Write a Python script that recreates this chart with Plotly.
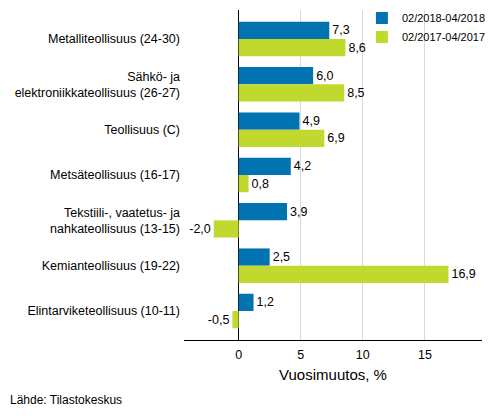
import plotly.graph_objects as go

categories = [
    'Metalliteollisuus (24-30)',
    'Sähkö- ja<br>elektroniikkateollisuus (26-27)',
    'Teollisuus (C)',
    'Metsäteollisuus (16-17)',
    'Tekstiili-, vaatetus- ja<br>nahkateollisuus (13-15)',
    'Kemianteollisuus (19-22)',
    'Elintarviketeollisuus (10-11)',
]
vals_2018 = [7.3, 6.0, 4.9, 4.2, 3.9, 2.5, 1.2]
vals_2017 = [8.6, 8.5, 6.9, 0.8, -2.0, 16.9, -0.5]
names = ['02/2018-04/2018', '02/2017-04/2017']
colors = ['#0073b0', '#c1d82f']

fig = go.Figure()
for name, vals, col in zip(names, [vals_2018, vals_2017], colors):
    fig.add_trace(go.Bar(
        y=categories, x=vals, name=name, orientation='h',
        marker=dict(color=col, line=dict(width=0)),
        texttemplate='%{x:.1f}', textposition='outside',
        textfont=dict(size=12.5, color='#000000'), cliponaxis=False,
    ))

# page body has an 8px margin, so the margins below are shifted by that
fig.update_layout(
    width=493, height=416,
    margin=dict(l=176, r=19, t=2, b=84, autoexpand=False),
    barmode='group', bargap=0.24, bargroupgap=0.0,
    separators=', ',
    plot_bgcolor='white', paper_bgcolor='white',
    font=dict(family='Liberation Sans, Arial, sans-serif', size=12.5, color='#000000'),
    legend=dict(x=0.597, y=1.02, xanchor='left', yanchor='top',
                bgcolor='rgba(0,0,0,0)', font=dict(size=11),
                itemwidth=30, tracegroupgap=0),
    annotations=[dict(text='Lähde: Tilastokeskus', x=0, y=0, xref='paper', yref='paper',
                      xanchor='left', yanchor='middle', showarrow=False,
                      font=dict(size=12), xshift=-176, yshift=-60)],
)
fig.update_xaxes(range=[-4.4, 19.6], tickvals=[0, 5, 10, 15], showgrid=True,
                 gridcolor='#d9d9d9', zeroline=True, zerolinecolor='#000000',
                 zerolinewidth=1, showline=True, linecolor='#000000',
                 title=dict(text='Vuosimuutos, %', standoff=8), ticks='',
                 ticklabelstandoff=3, automargin=False)
fig.update_yaxes(range=[6.64, -0.64], showgrid=False, ticks='', ticklabelstandoff=3,
                 automargin=False)

fig.write_html('out.html')
